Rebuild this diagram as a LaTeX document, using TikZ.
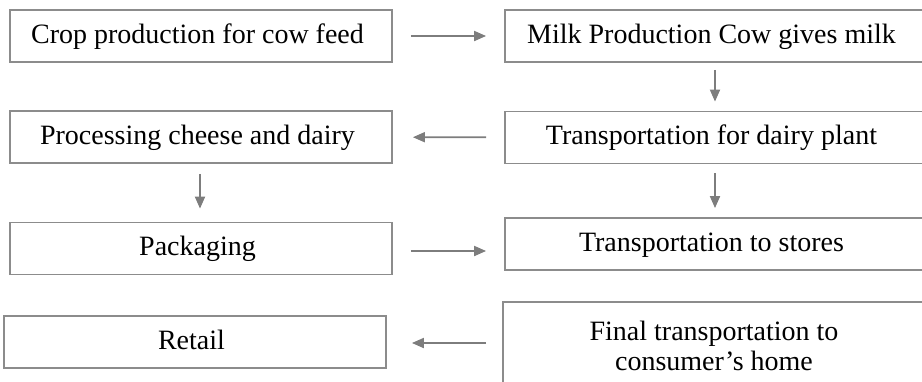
\documentclass[tikz,border=0pt]{standalone}
\usepackage{fontspec}
\setmainfont{Liberation Serif}
\usetikzlibrary{arrows,arrows.meta,positioning,calc}
\definecolor{boxgray}{RGB}{140,140,140}
\definecolor{linegray}{RGB}{125,125,125}
\tikzset{
  stage/.style={draw=boxgray, line width=0.9pt, minimum height=26pt, inner sep=0pt,
    align=center, font=\fontsize{14}{15}\selectfont},
  leftstage/.style={stage, minimum width=191pt, text height=9.5pt, text depth=2.5pt},
  rightstage/.style={stage, minimum width=210pt, text height=9.5pt, text depth=2.5pt},
  flow/.style={draw=linegray, line width=0.9pt, -{Triangle[length=6pt,width=5pt]}}
}
\begin{document}
\begin{tikzpicture}[x=0.5pt,y=-0.5pt]
    \useasboundingbox (0,0) rectangle (922,381);

    \node [leftstage] (crop) at (201,36) { Crop production for cow feed };
    \node [rightstage] (milk) at (715,36) { Milk Production Cow gives milk };
    \node [leftstage] (cheese) at (201,137) { Processing cheese and dairy };
    \node [rightstage] (plant) at (715,137.5) { Transportation for dairy plant };
    \node [leftstage] (pack) at (201,248.5) { Packaging };
    \node [rightstage] (stores) at (715,244) { Transportation to stores };
    \node [leftstage] (retail) at (195,342) { Retail };
    \node [rightstage, text height={}, text depth={}, minimum width=211pt, minimum height=44pt]
        (home) at (714,346) { Final transportation to\\ consumer’s home };

    \draw [flow, shorten <=9pt, shorten >=9pt] (crop) -- (milk);
    \draw [flow, shorten <=3.5pt, shorten >=4.5pt] (milk.south -| 715,0) -- (plant.north -| 715,0);
    \draw [flow, shorten <=9pt, shorten >=10pt] (plant) -- (cheese);
    \draw [flow, shorten <=5pt, shorten >=6.5pt] (cheese.south -| 200,0) -- (pack.north -| 200,0);
    \draw [flow, shorten <=4.5pt, shorten >=4.5pt] (plant.south -| 715,0) -- (stores.north -| 715,0);
    \draw [flow, shorten <=9pt, shorten >=9pt] (pack.east |- 0,251) -- (stores.west |- 0,251);
    \draw [flow, shorten <=8pt, shorten >=12.5pt] (home.west |- 0,343) -- (retail.east |- 0,343);
  \end{tikzpicture}
\end{document}
